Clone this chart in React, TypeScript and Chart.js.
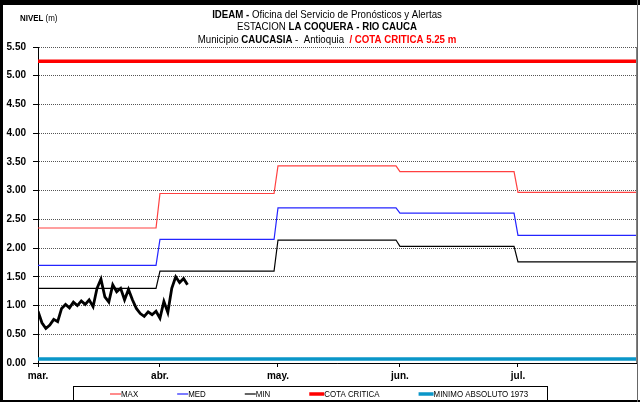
import React, { useEffect, useRef } from 'react';
import { Chart, registerables } from 'chart.js';

Chart.register(...registerables);

// ---- data ----
const MONTH_LABELS = ['mar.', 'abr.', 'may.', 'jun.', 'jul.'];
const DAYS_IN_MONTH = [31, 30, 31, 30, 31];
const MAX_LEVEL = [2.35, 2.95, 3.43, 3.33, 2.97];
const MED_LEVEL = [1.7, 2.15, 2.7, 2.61, 2.22];
const MIN_LEVEL = [1.3, 1.6, 2.14, 2.03, 1.76];
const COTA_CRITICA = 5.25;
const MINIMO_ABSOLUTO = 0.07;
// observed daily level from 1 March
const OBSERVED = [
  0.9, 0.7, 0.6, 0.66, 0.76, 0.72, 0.95, 1.02, 0.96, 1.06,
  1.0, 1.08, 1.02, 1.1, 0.98, 1.3, 1.46, 1.15, 1.06, 1.36,
  1.24, 1.3, 1.1, 1.28, 1.1, 0.95, 0.86, 0.81, 0.89, 0.84,
  0.9, 0.78, 1.07, 0.88, 1.3, 1.5, 1.4, 1.47, 1.36,
];
const Y_MIN = 0;
const Y_MAX = 5.5;
const Y_STEP = 0.5;

const TITLE_LINES: [string, boolean, string][][] = [
  [['IDEAM - ', true, '#000'], ['Oficina del Servicio de Pronósticos y Alertas', false, '#000']],
  [['ESTACION ', false, '#000'], ['LA COQUERA - RIO CAUCA', true, '#000']],
  [['Municipio ', false, '#000'], ['CAUCASIA', true, '#000'], [' -  Antioquia  ', false, '#000'], ['/ COTA CRITICA 5.25 m', true, '#ff0000']],
];

const FONT = '"Liberation Sans", Arial, sans-serif';
const SQUEEZE = 0.88; // emulate a condensed face

function monthStarts(): number[] {
  const s: number[] = [];
  let acc = 0;
  for (const d of DAYS_IN_MONTH) { s.push(acc); acc += d; }
  return s;
}
function totalDays(): number { return DAYS_IN_MONTH.reduce((a, b) => a + b, 0); }

function expandMonthly(vals: number[]) {
  const pts: { x: number; y: number }[] = [];
  let idx = 0;
  DAYS_IN_MONTH.forEach((n, m) => {
    for (let d = 0; d < n; d++) { pts.push({ x: idx, y: vals[m] }); idx++; }
  });
  return pts;
}
function constantLine(v: number) {
  const pts: { x: number; y: number }[] = [];
  const n = totalDays();
  for (let i = 0; i < n; i++) pts.push({ x: i, y: v });
  return pts;
}

function squeezedText(ctx: CanvasRenderingContext2D, t: string, x: number, y: number): number {
  const w = ctx.measureText(t).width * SQUEEZE;
  ctx.fillText(t, x, y, Math.max(w, 0.1));
  return w;
}

const framePlugin = {
  id: 'frame',
  beforeDraw(chart: any) {
    const ctx = chart.ctx;
    ctx.save();
    ctx.fillStyle = '#fff';
    ctx.fillRect(0, 0, chart.width, chart.height);
    ctx.restore();
  },
  afterDraw(chart: any) {
    const ctx = chart.ctx as CanvasRenderingContext2D;
    const { right, top, bottom } = chart.chartArea;
    ctx.save();
    // right plot border
    ctx.strokeStyle = '#808080';
    ctx.lineWidth = 1;
    ctx.beginPath();
    ctx.moveTo(Math.round(right) + 0.5, top);
    ctx.lineTo(Math.round(right) + 0.5, bottom);
    ctx.stroke();
    // outer frame
    ctx.fillStyle = '#000';
    ctx.fillRect(0, 0, chart.width, 5);
    ctx.fillRect(0, 0, 3, chart.height);
    ctx.fillRect(0, chart.height - 2, chart.width, 2);
    ctx.fillStyle = '#666';
    ctx.fillRect(chart.width - 3, 0, 1, chart.height);

    // title
    const ys = [18, 30, 43];
    ctx.textBaseline = 'alphabetic';
    ctx.textAlign = 'left';
    TITLE_LINES.forEach((line, i) => {
      let w = 0;
      line.forEach(([t, b]) => { ctx.font = `${b ? 'bold ' : ''}11px ${FONT}`; w += ctx.measureText(t).width * SQUEEZE; });
      let x = 327 - w / 2;
      line.forEach(([t, b, c]) => {
        ctx.font = `${b ? 'bold ' : ''}11px ${FONT}`;
        ctx.fillStyle = c;
        x += squeezedText(ctx, t, x, ys[i]);
      });
    });
    // y axis caption
    ctx.fillStyle = '#000';
    ctx.font = `bold 9px ${FONT}`;
    let nx = 20 + squeezedText(ctx, 'NIVEL ', 20, 21);
    ctx.font = `9px ${FONT}`;
    squeezedText(ctx, '(m)', nx, 21);

    // legend
    const bx = 73.5, by = 386.5, bw = 474, bh = 14;
    ctx.strokeStyle = '#000';
    ctx.lineWidth = 1;
    ctx.strokeRect(bx, by, bw, bh);
    let lx = 110;
    const ly = 394;
    ctx.font = `9px ${FONT}`;
    ctx.textBaseline = 'middle';
    chart.data.datasets.forEach((ds: any) => {
      if (!ds.label) return;
      const len = ds.borderWidth > 2 ? 15 : 11;
      ctx.strokeStyle = ds.borderColor;
      ctx.lineWidth = ds.borderWidth;
      ctx.beginPath();
      ctx.moveTo(lx, ly);
      ctx.lineTo(lx + len, ly);
      ctx.stroke();
      ctx.fillStyle = '#000';
      const tw = squeezedText(ctx, ds.label, lx + len, ly + 0.5);
      lx += len + tw + 39;
    });
    ctx.restore();
  },
};

export default function App() {
  const ref = useRef<HTMLCanvasElement | null>(null);
  useEffect(() => {
    if (!ref.current) return;
    const starts = monthStarts();
    const chart = new Chart(ref.current, {
      type: 'line',
      data: {
        datasets: [
          {
            label: '',
            data: OBSERVED.map((v, i) => ({ x: i, y: v })),
            borderColor: '#000',
            borderWidth: 2.8,
            pointRadius: 0,
            tension: 0,
          },
          { label: 'MAX', data: expandMonthly(MAX_LEVEL), borderColor: '#ff4040', borderWidth: 1.2, pointRadius: 0 },
          { label: 'MED', data: expandMonthly(MED_LEVEL), borderColor: '#2424ff', borderWidth: 1.2, pointRadius: 0 },
          { label: 'MIN', data: expandMonthly(MIN_LEVEL), borderColor: '#000000', borderWidth: 1.2, pointRadius: 0 },
          { label: 'COTA CRITICA', data: constantLine(COTA_CRITICA), borderColor: '#ff0000', borderWidth: 3.5, pointRadius: 0 },
          { label: 'MINIMO ABSOLUTO 1973', data: constantLine(MINIMO_ABSOLUTO), borderColor: '#0a96c8', borderWidth: 3.5, pointRadius: 0 },
        ] as any,
      },
      options: {
        animation: false,
        responsive: false,
        events: [],
        layout: { padding: { top: 47, right: 4, left: 0, bottom: 19 } },
        plugins: { legend: { display: false }, title: { display: false }, tooltip: { enabled: false } },
        scales: {
          x: {
            type: 'linear',
            min: 0,
            max: totalDays() - 1,
            afterBuildTicks: (scale: any) => { scale.ticks = starts.map((v) => ({ value: v })); },
            afterFit: (scale: any) => { scale.height = 20; },
            ticks: {
              autoSkip: false,
              maxRotation: 0,
              padding: 3,
              color: '#000',
              font: { family: FONT, size: 10, weight: 'bold' },
              callback: (v: any) => { const i = starts.indexOf(Number(v)); return i >= 0 ? MONTH_LABELS[i] : ''; },
            },
            grid: { drawOnChartArea: false, drawTicks: true, tickLength: 4, tickColor: '#000', color: '#000' },
            border: { display: true, color: '#000', width: 1 },
          },
          y: {
            min: Y_MIN,
            max: Y_MAX,
            afterFit: (scale: any) => { scale.width = 38; },
            ticks: {
              stepSize: Y_STEP,
              padding: 7,
              color: '#000',
              font: { family: FONT, size: 10, weight: 'bold' },
              callback: (v: any) => Number(v).toFixed(2),
            },
            grid: { color: '#555', lineWidth: 1, tickLength: 5, tickColor: '#000', tickBorderDash: [] },
            border: { display: true, color: '#000', width: 1, dash: [1, 1] },
          },
        },
      } as any,
      plugins: [framePlugin],
    });
    return () => chart.destroy();
  }, []);
  return (
    <div style={{ position: 'absolute', left: 0, top: 0, width: 640, height: 402 }}>
      <canvas ref={ref} width={640} height={402} />
    </div>
  );
}
